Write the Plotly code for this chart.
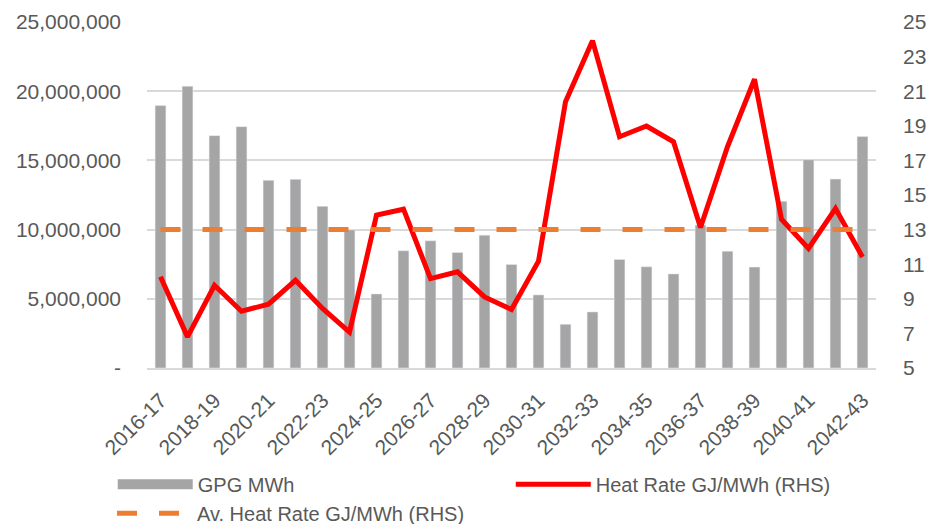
import plotly.graph_objects as go

categories = ["2016-17","2017-18","2018-19","2019-20","2020-21","2021-22","2022-23","2023-24",
              "2024-25","2025-26","2026-27","2027-28","2028-29","2029-30","2030-31","2031-32",
              "2032-33","2033-34","2034-35","2035-36","2036-37","2037-38","2038-39","2039-40",
              "2040-41","2041-42","2042-43"]
gpg_mwh = [18960000, 20360000, 16790000, 17440000, 13560000, 13630000, 11680000, 9980000,
           5350000, 8470000, 9190000, 8350000, 9600000, 7480000, 5280000, 3160000,
           4050000, 7840000, 7310000, 6800000, 10330000, 8440000, 7290000, 12040000,
           15050000, 13650000, 16720000]
heat_rate = [10.27, 6.8, 9.78, 8.28, 8.69, 10.07, 8.44, 7.08, 13.84, 14.18, 10.17, 10.56,
             9.11, 8.38, 11.17, 20.39, 23.92, 18.37, 18.99, 18.08, 13.12, 17.79, 21.69,
             13.6, 11.91, 14.22, 11.42]
avg_heat_rate = [13.0] * len(categories)

left_ticks = [0, 5000000, 10000000, 15000000, 20000000, 25000000]
left_labels = ["-", "5,000,000", "10,000,000", "15,000,000", "20,000,000", "25,000,000"]
right_ticks = [5, 7, 9, 11, 13, 15, 17, 19, 21, 23, 25]

txt = "#595959"
font_family = "Liberation Sans, Arial, sans-serif"

fig = go.Figure()
fig.add_trace(go.Bar(x=categories, y=gpg_mwh, name="GPG MWh", marker_color="#A5A5A5",
                     showlegend=False))
# legend proxy for the bar series (wide rectangle symbol)
fig.add_trace(go.Scatter(x=[None], y=[None], mode="lines", name="GPG MWh",
                         line=dict(color="#A5A5A5", width=11), legend="legend"))
fig.add_trace(go.Scatter(x=categories, y=heat_rate, mode="lines", name="Heat Rate GJ/MWh (RHS)",
                         line=dict(color="#FF0000", width=5), yaxis="y2", legend="legend2"))
fig.add_trace(go.Scatter(x=categories, y=avg_heat_rate, mode="lines",
                         name="Av. Heat Rate GJ/MWh (RHS)",
                         line=dict(color="#ED7D31", width=5, dash="20px,22px"), yaxis="y2",
                         legend="legend3"))

leg_common = dict(orientation="h", xanchor="left", yanchor="middle", itemwidth=75,
                  font=dict(family=font_family, size=20, color=txt), bgcolor="rgba(0,0,0,0)")

fig.update_layout(
    width=929, height=524,
    margin=dict(l=147, r=53, t=22, b=156, autoexpand=False),
    paper_bgcolor="white", plot_bgcolor="white",
    font=dict(family=font_family, color=txt),
    bargap=0.6,
    xaxis=dict(type="category", tickangle=-45, dtick=2, tickfont=dict(size=21, color=txt),
               showline=True, linecolor="#D9D9D9", linewidth=1.5, ticks="", showgrid=False,
               automargin=False, ticklabelstandoff=10),
    yaxis=dict(range=[0, 25000000], tickvals=left_ticks, ticktext=left_labels,
               tickfont=dict(size=21, color=txt), showgrid=True, gridcolor="#D9D9D9",
               gridwidth=1.5, zeroline=False, ticks="", ticklabelstandoff=25, automargin=False),
    yaxis2=dict(range=[5, 25], tickvals=right_ticks, overlaying="y", side="right",
                tickfont=dict(size=21, color=txt), showgrid=False, zeroline=False, ticks="",
                ticklabelstandoff=26, automargin=False),
    legend=dict(x=-0.047, y=-0.336, **leg_common),
    legend2=dict(x=0.499, y=-0.336, **leg_common),
    legend3=dict(x=-0.048, y=-0.42, **leg_common),
)

fig.write_html("out.html", config={"displayModeBar": False},
               post_script="document.body.style.margin='0';document.body.style.overflow='hidden';")
